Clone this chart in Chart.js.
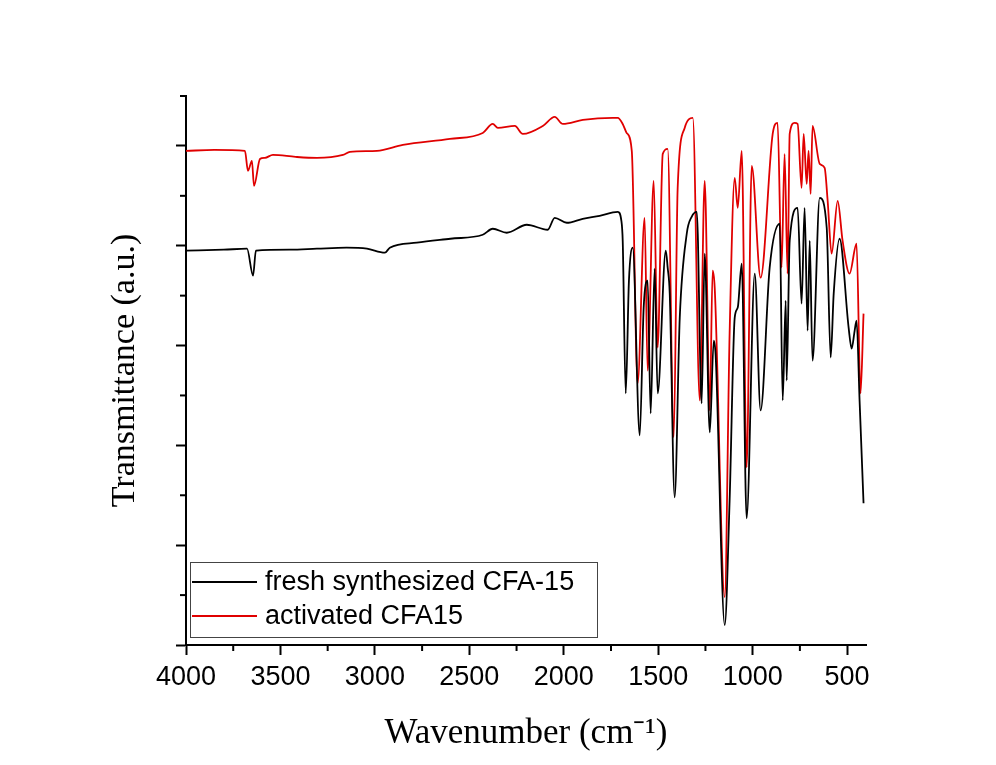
<!DOCTYPE html>
<html>
<head>
<meta charset="utf-8">
<script src="https://cdn.jsdelivr.net/npm/chart.js@4"></script>
<style>
  html, body { margin: 0; padding: 0; background: #fff; }
  canvas { display: block; }
</style>
</head>
<body>
<canvas id="irChart" width="996" height="765"></canvas>
<script>
const blackWave = [4000,3800,3677,3645,3630,3450,3307,3150,3042,2947,2921,2778,2600,2429,2376,2302,2196,2085,2048,1984,1900,1810,1714,1695,1688,1672,1655,1635,1598,1577,1556,1540,1519,1503,1460,1450,1439,1413,1386,1349,1323,1296,1270,1254,1227,1206,1196,1148,1122,1095,1079,1058,1032,989,958,910,857,841,825,820,804,762,741,725,709,698,683,645,608,587,571,540,492,476,460,450,434,413];
const blackT = [7.90,7.92,7.94,7.40,7.90,7.92,7.94,7.96,7.94,7.86,7.96,8.06,8.14,8.22,8.34,8.26,8.42,8.32,8.56,8.46,8.54,8.60,8.68,8.50,8.10,5.04,7.30,7.96,4.20,6.76,7.30,4.64,7.54,5.04,7.90,7.56,7.04,2.96,6.56,8.24,8.58,8.68,4.84,7.84,4.26,6.10,5.80,0.40,2.90,6.56,6.76,7.64,2.54,7.44,4.70,7.56,8.44,4.90,6.90,5.30,8.10,8.76,6.84,8.76,6.30,8.10,5.70,8.96,8.36,5.76,7.04,8.14,6.36,5.94,6.30,6.50,4.90,2.84];

const redWave = [4000,3850,3688,3672,3651,3640,3608,3582,3540,3420,3307,3169,3132,2989,2852,2603,2429,2376,2349,2259,2217,2111,2048,2005,1899,1741,1714,1688,1667,1640,1609,1572,1556,1524,1503,1476,1450,1418,1397,1360,1317,1280,1254,1227,1212,1201,1148,1122,1095,1079,1058,1032,1005,958,894,868,847,831,815,804,778,762,741,730,714,704,693,683,645,619,603,582,550,524,487,450,429,413];
const redT = [9.90,9.92,9.90,9.50,9.70,9.20,9.74,9.76,9.82,9.78,9.76,9.82,9.88,9.90,10.02,10.14,10.26,10.44,10.36,10.40,10.24,10.40,10.58,10.44,10.52,10.56,10.56,10.44,10.26,9.90,5.24,8.56,5.50,9.30,5.96,9.84,9.94,4.16,9.16,10.36,10.56,4.90,9.30,4.70,7.50,7.16,0.96,6.24,9.36,8.76,9.90,3.56,9.60,7.36,10.24,10.46,7.56,9.84,7.44,10.24,10.46,10.44,9.16,10.24,9.24,9.90,9.04,10.40,9.64,9.56,8.90,7.84,8.90,8.10,7.44,8.04,5.04,6.64];

const seriesNames = ['fresh synthesized CFA-15', 'activated CFA15'];
const xTicks = [500,750,1000,1250,1500,1750,2000,2250,2500,2750,3000,3250,3500,3750,4000];
const yTicks = [0,1,2,3,4,5,6,7,8,9,10,11];

const toPoints = (xs, ys) => xs.map((x, i) => ({x: x, y: ys[i]}));

// Ticks menores (mas cortos) dibujados con las escalas de Chart.js
const minorTicks = {
    id: 'minorTicks',
    afterDraw(chart) {
        const ctx = chart.ctx;
        const xs = chart.scales.x, ys = chart.scales.y;
        ctx.save();
        ctx.strokeStyle = '#000';
        ctx.lineWidth = 2;
        xTicks.filter(v => v % 500 !== 0).forEach(v => {
            const px = xs.getPixelForValue(v);
            ctx.beginPath();
            ctx.moveTo(px, xs.top);
            ctx.lineTo(px, xs.top + 6);
            ctx.stroke();
        });
        yTicks.filter(v => v % 2 !== 0).forEach(v => {
            const py = ys.getPixelForValue(v);
            ctx.beginPath();
            ctx.moveTo(ys.right, py);
            ctx.lineTo(ys.right - 6, py);
            ctx.stroke();
        });
        ctx.restore();
    }
};

// Leyenda dentro del area del grafico (abajo a la izquierda)
const insideLegend = {
    id: 'insideLegend',
    afterDraw(chart) {
        const ctx = chart.ctx;
        const area = chart.chartArea;
        const left = area.left + 4;
        const top = area.bottom - 83;
        ctx.save();
        ctx.strokeStyle = '#444';
        ctx.lineWidth = 1;
        ctx.strokeRect(left + 0.5, top + 0.5, 407, 75);
        ctx.font = '27px "Liberation Sans", Arial, sans-serif';
        ctx.textBaseline = 'middle';
        ctx.fillStyle = '#000';
        chart.data.datasets.forEach((ds, i) => {
            const y = top + 20 + i * 34;
            ctx.strokeStyle = ds.borderColor;
            ctx.lineWidth = 2;
            ctx.beginPath();
            ctx.moveTo(left + 2, y);
            ctx.lineTo(left + 67, y);
            ctx.stroke();
            ctx.fillText(ds.label, left + 75, y + 1);
        });
        ctx.restore();
    }
};

new Chart(document.getElementById('irChart').getContext('2d'), {
    type: 'line',
    data: {
        datasets: [{
            label: seriesNames[0],
            data: toPoints(blackWave, blackT),
            borderColor: '#000000',
            borderWidth: 1.8,
            pointRadius: 0,
            cubicInterpolationMode: 'monotone'
        }, {
            label: seriesNames[1],
            data: toPoints(redWave, redT),
            borderColor: '#e00000',
            borderWidth: 1.8,
            pointRadius: 0,
            cubicInterpolationMode: 'monotone'
        }]
    },
    options: {
        responsive: false,
        animation: false,
        layout: { padding: { top: 96, right: 130, left: 0, bottom: 0 } },
        plugins: {
            legend: { display: false },
            tooltip: { enabled: false }
        },
        scales: {
            x: {
                type: 'linear',
                reverse: true,
                min: 400,
                max: 4000,
                afterBuildTicks: scale => { scale.ticks = xTicks.map(v => ({value: v})); },
                afterFit: scale => { scale.height = 120; },
                border: { display: true, color: '#000', width: 2 },
                grid: {
                    drawOnChartArea: false,
                    tickLength: 10,
                    tickWidth: 2,
                    tickColor: c => (c.tick && c.tick.value % 500 === 0) ? '#000' : 'rgba(0,0,0,0)'
                },
                ticks: {
                    color: '#000',
                    padding: 6,
                    maxRotation: 0,
                    autoSkip: false,
                    font: { family: '"Liberation Sans", Arial, sans-serif', size: 27 },
                    callback: v => (v % 500 === 0 ? String(v) : '')
                },
                title: {
                    display: true,
                    text: 'Wavenumber (cm\u207B\u00B9)',
                    color: '#000',
                    font: { family: '"Liberation Serif", "Times New Roman", serif', size: 35 },
                    padding: { top: 0, bottom: 10 }
                }
            },
            y: {
                type: 'linear',
                min: 0,
                max: 11,
                afterBuildTicks: scale => { scale.ticks = yTicks.map(v => ({value: v})); },
                afterFit: scale => { scale.width = 186; },
                border: { display: true, color: '#000', width: 2 },
                grid: {
                    drawOnChartArea: false,
                    tickLength: 10,
                    tickWidth: 2,
                    tickColor: c => (c.tick && c.tick.value % 2 === 0) ? '#000' : 'rgba(0,0,0,0)'
                },
                ticks: {
                    callback: () => ''
                },
                title: {
                    display: true,
                    text: 'Transmittance (a.u.)',
                    color: '#000',
                    font: { family: '"Liberation Serif", "Times New Roman", serif', size: 34 },
                    padding: { top: 105, bottom: 0 }
                }
            }
        }
    },
    plugins: [minorTicks, insideLegend]
});
</script>
</body>
</html>
